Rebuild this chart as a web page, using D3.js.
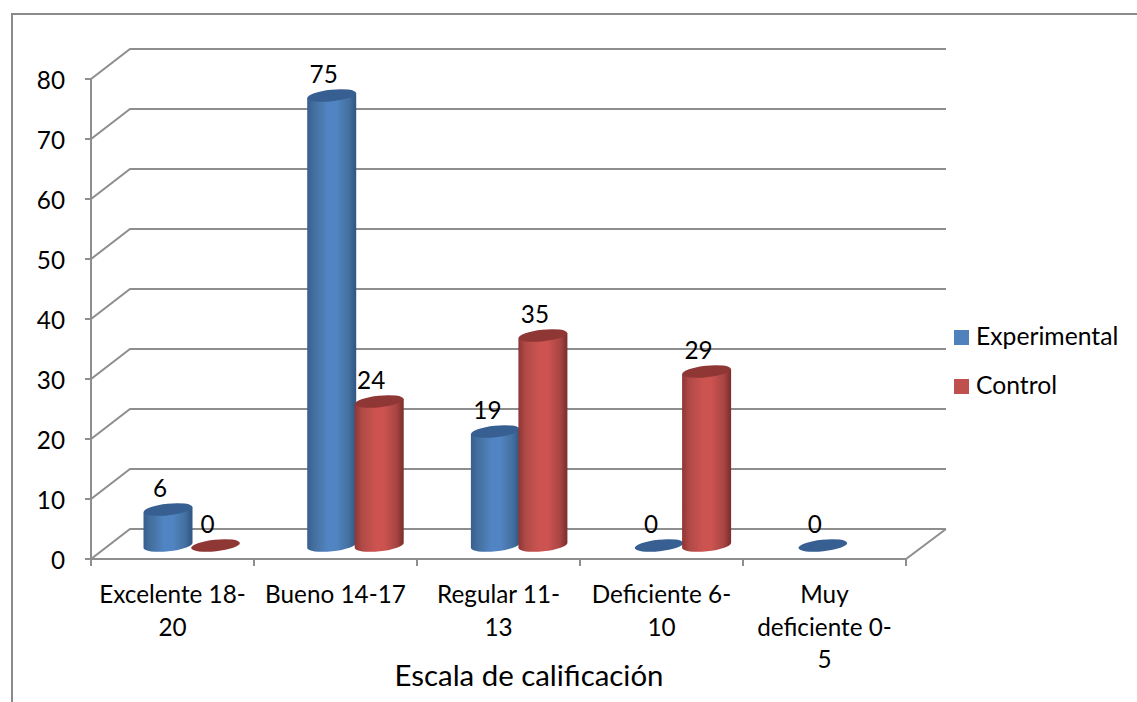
<!DOCTYPE html>
<html><head><meta charset="utf-8">
<script src="https://cdn.jsdelivr.net/npm/d3@7"></script>
<style>
html,body{margin:0;padding:0;background:#fff}
svg{display:block}
text{font-family:Lato,"Open Sans",sans-serif;fill:#000}
</style></head><body>
<svg id="c" width="1137" height="702"></svg>
<script>
const categories=[["Excelente 18-","20"],["Bueno 14-17"],["Regular 11-","13"],["Deficiente 6-","10"],["Muy","deficiente 0-","5"]];
const seriesNames=["Experimental","Control"];
const experimental=[6,75,19,0,0];
const control=[0,24,35,29,null];
const yTicks=[0,10,20,30,40,50,60,70,80];
const axisTitle="Escala de calificación";

const svg=d3.select("#c");
const W=1137,H=702;
const dx=39,dy=-30;           // depth offset of the back wall
const y=d3.scaleLinear().domain([0,80]).range([559,79]);
const x=d3.scaleBand().domain(d3.range(5)).range([91,906]);
const xBars=d3.scaleBand().domain(d3.range(5)).range([91,909.5]);
const grid="#8e8e8e";
const fs=24.3;

// outer frame
svg.append("path").attr("d",`M12 ${H}V14H1137`).attr("fill","none").attr("stroke","#8a8a8a").attr("stroke-width",2);

const defs=svg.append("defs");
function grad(id,stops){
  const g=defs.append("linearGradient").attr("id",id).attr("x1",0).attr("x2",1).attr("y1",0).attr("y2",0);
  stops.forEach(([o,c])=>g.append("stop").attr("offset",o).attr("stop-color",c));
}
grad("gb",[[0,"#375f91"],[.15,"#44709f"],[.42,"#5184c2"],[.6,"#5184c2"],[.85,"#44709f"],[1,"#2f5583"]]);
grad("gr",[[0,"#8f3533"],[.15,"#b04a47"],[.42,"#cc5350"],[.6,"#cc5350"],[.85,"#a84543"],[1,"#7a2d2b"]]);

// walls
const gg=svg.append("g").attr("fill","none").attr("stroke",grid).attr("stroke-width",2);
yTicks.forEach(t=>{
  gg.append("path").attr("d",`M85 ${y(t)}H91L${91+dx} ${y(t)+dy}H946`);
});
gg.append("path").attr("d",`M91 ${y(80)}V${y(0)}H906L946 ${y(0)+dy}`);
gg.append("path").attr("d",`M${91} ${y(0)}V566`);
d3.range(1,6).forEach(i=>{
  const xx=i===5?906:x(i);
  gg.append("path").attr("d",`M${xx} ${y(0)}V566`);
});

// y labels
yTicks.forEach(t=>{
  svg.append("text").attr("x",65).attr("y",y(t)+10).attr("text-anchor","end").attr("font-size",fs).text(t);
});

// bars
const base=545.5, rx=24.5, ry=5.8, tilt=-6;
const barW=47.5;
const unit=y(0)-y(1);
function cyl(cx,v,s){
  const top=base-v*unit;
  const g=svg.append("g");
  const dk=s===0?"#375f91":"#8f3735";
  const fill=s===0?"url(#gb)":"url(#gr)";
  const a=Math.sin(tilt*Math.PI/180)*rx;
  if(v>0){
    g.append("path").attr("fill",fill)
     .attr("d",`M${cx-rx} ${top-a}L${cx-rx} ${base-a}A${rx} ${ry} ${tilt} 0 0 ${cx+rx} ${base+a}L${cx+rx} ${top+a}Z`);
  }
  g.append("ellipse").attr("cx",cx).attr("cy",top).attr("rx",rx).attr("ry",ry)
   .attr("transform",`rotate(${tilt} ${cx} ${top})`).attr("fill",dk);
  return ()=>svg.append("text").attr("x",cx-8).attr("y",top-13).attr("text-anchor","middle").attr("font-size",fs).text(v);
}
const labelers=[];
categories.forEach((c,i)=>{
  const c0=xBars(i)+xBars.bandwidth()*0.4704, c1=c0+barW;
  labelers.push(cyl(c0,experimental[i],0));
  if(control[i]!==null) labelers.push(cyl(c1,control[i],1));
});
labelers.forEach(f=>f());

// category labels
categories.forEach((c,i)=>{
  c.forEach((l,j)=>{
    svg.append("text").attr("x",x(i)+x.bandwidth()/2).attr("y",603+j*32.5).attr("text-anchor","middle").attr("font-size",fs).text(l);
  });
});
svg.append("text").attr("x",529).attr("y",686).attr("text-anchor","middle").attr("font-size",29.4).text(axisTitle);

// legend
seriesNames.forEach((n,i)=>{
  const ly=330+i*49;
  svg.append("rect").attr("x",954).attr("y",ly).attr("width",15).attr("height",15).attr("fill",i?"#c0504d":"#4f81bd");
  svg.append("text").attr("x",976).attr("y",ly+15).attr("font-size",fs+.4).text(n);
});
</script></body></html>
